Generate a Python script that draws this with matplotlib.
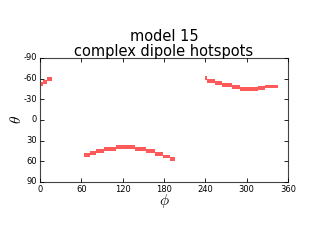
import matplotlib
matplotlib.use("Agg")
import matplotlib.pyplot as plt

plt.style.use("classic")
plt.rcParams["axes.unicode_minus"] = False

# hotspot segments: phi start, phi end, theta centre (degrees)
spot1_phi0 = [0, 5, 10]
spot1_phi1 = [5, 10, 17]
spot1_theta = [-52, -55, -59]

spot2_phi0 = [64, 73, 82, 93, 111, 138, 154, 167, 179, 189]
spot2_phi1 = [73, 82, 93, 111, 138, 154, 167, 179, 189, 196]
spot2_theta = [51, 47.5, 45.5, 42.5, 39.5, 42.5, 45.5, 49.5, 53, 57]

spot3_phi0 = [239, 242, 254, 264, 278, 291, 316, 326]
spot3_phi1 = [242, 254, 264, 278, 291, 316, 326, 345]
spot3_theta = [-61, -56.5, -53.5, -50.5, -47.5, -44.5, -46, -48.5]

xticks = [0, 60, 120, 180, 240, 300, 360]
yticks = [-90, -60, -30, 0, 30, 60, 90]

fig = plt.figure(figsize=(3.2, 2.4), dpi=100)
fig.patch.set_facecolor("white")
ax = fig.add_axes([0.125, 0.242, 0.775, 0.517])

thick = 5.5
for p0, p1, th in [(spot1_phi0, spot1_phi1, spot1_theta),
                   (spot2_phi0, spot2_phi1, spot2_theta),
                   (spot3_phi0, spot3_phi1, spot3_theta)]:
    widths = [b - a for a, b in zip(p0, p1)]
    bottoms = [t - thick / 2 for t in th]
    ax.bar(p0, [thick] * len(p0), width=widths, bottom=bottoms, align="edge",
           color="#ff5a5a", edgecolor="none", linewidth=0)

ax.set_xlim(0, 360)
ax.set_ylim(90, -90)
ax.set_xticks(xticks)
ax.set_yticks(yticks)
ax.tick_params(labelsize=6, length=3, width=0.6, pad=2)
for s in ax.spines.values():
    s.set_linewidth(0.8)
    s.set_color("#444444")

ax.set_title("model 15\ncomplex dipole hotspots", fontsize=10.5, pad=1, linespacing=1.0)
ax.set_xlabel(r"$\phi$", fontsize=11, labelpad=-1)
ax.set_ylabel(r"$\theta$", fontsize=11, labelpad=0)

fig.savefig("out.png", dpi=100, facecolor="white")
